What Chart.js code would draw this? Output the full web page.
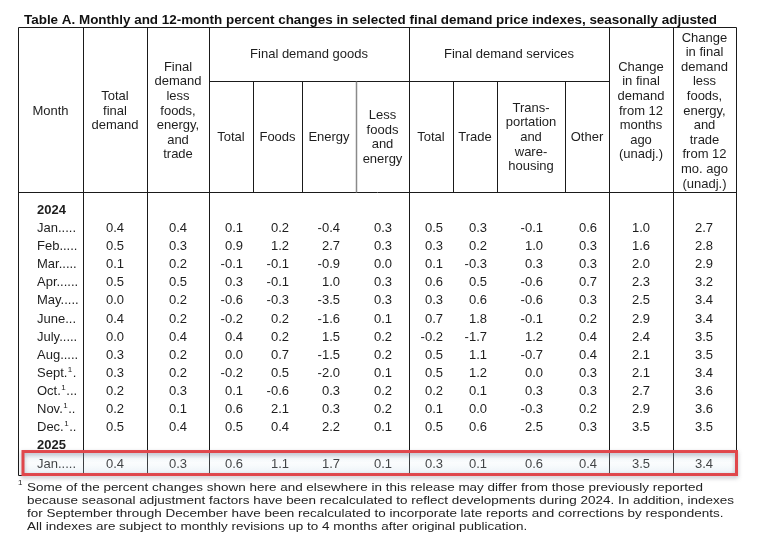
<!DOCTYPE html>
<html>
<head>
<meta charset="utf-8">
<script src="https://cdn.jsdelivr.net/npm/chart.js@4.4.1/dist/chart.umd.min.js"></script>
<style>
  html, body { margin: 0; padding: 0; background: #fff; }
  canvas { display: block; }
</style>
</head>
<body>
<canvas id="tabelaPPI" width="758" height="545"></canvas>
<script>
// Linhas: jan/2024 ... dez/2024, jan/2025
var meses = ['Jan.', 'Feb.', 'Mar.', 'Apr.', 'May.', 'June.', 'July.', 'Aug.', 'Sept.', 'Oct.', 'Nov.', 'Dec.', 'Jan.'];
var notaMes = [0, 0, 0, 0, 0, 0, 0, 0, 1, 1, 1, 1, 0];
var anos = ['2024', '2025'];

// Colunas de valores (variação % mensal e em 12 meses)
var totalFinal      = [0.4, 0.5, 0.1, 0.5, 0.0, 0.4, 0.0, 0.3, 0.3, 0.2, 0.2, 0.5, 0.4];
var menosAlimEnerg  = [0.4, 0.3, 0.2, 0.5, 0.2, 0.2, 0.4, 0.2, 0.2, 0.3, 0.1, 0.4, 0.3];
var bensTotal       = [0.1, 0.9, -0.1, 0.3, -0.6, -0.2, 0.4, 0.0, -0.2, 0.1, 0.6, 0.5, 0.6];
var bensAlimentos   = [0.2, 1.2, -0.1, -0.1, -0.3, 0.2, 0.2, 0.7, 0.5, -0.6, 2.1, 0.4, 1.1];
var bensEnergia     = [-0.4, 2.7, -0.9, 1.0, -3.5, -1.6, 1.5, -1.5, -2.0, 0.3, 0.3, 2.2, 1.7];
var bensNucleo      = [0.3, 0.3, 0.0, 0.3, 0.3, 0.1, 0.2, 0.2, 0.1, 0.2, 0.2, 0.1, 0.1];
var servTotal       = [0.5, 0.3, 0.1, 0.6, 0.3, 0.7, -0.2, 0.5, 0.5, 0.2, 0.1, 0.5, 0.3];
var servComercio    = [0.3, 0.2, -0.3, 0.5, 0.6, 1.8, -1.7, 1.1, 1.2, 0.1, 0.0, 0.6, 0.1];
var servTransporte  = [-0.1, 1.0, 0.3, -0.6, -0.6, -0.1, 1.2, -0.7, 0.0, 0.3, -0.3, 2.5, 0.6];
var servOutros      = [0.6, 0.3, 0.3, 0.7, 0.3, 0.2, 0.4, 0.4, 0.3, 0.3, 0.2, 0.3, 0.4];
var var12Meses      = [1.0, 1.6, 2.0, 2.3, 2.5, 2.9, 2.4, 2.1, 2.1, 2.7, 2.9, 3.5, 3.5];
var var12Nucleo     = [2.7, 2.8, 2.9, 3.2, 3.4, 3.4, 3.5, 3.5, 3.4, 3.6, 3.6, 3.5, 3.4];

var colunas = [totalFinal, menosAlimEnerg, bensTotal, bensAlimentos, bensEnergia, bensNucleo,
               servTotal, servComercio, servTransporte, servOutros, var12Meses, var12Nucleo];

// Posição de cada linha no eixo y (linhas 0 e 13 são os anos)
var linhaMes = [1, 2, 3, 4, 5, 6, 7, 8, 9, 10, 11, 12, 14];
var linhaAno = [0, 13];

// Layout horizontal (unidades do eixo x)
var bordas = [0, 65, 129, 191, 235, 284, 338, 391, 435, 479, 547, 591, 655, 718];
var ancoraValor = [106, 169, 225, 271, 322, 374, 425, 469, 525, 579, 632, 695];

var titulo = 'Table A. Monthly and 12-month percent changes in selected final demand price indexes, seasonally adjusted';

// Cabeçalhos: [borda inicial, borda final, nível, linhas]
var cabecalhos = [
  [0, 1, 'full', ['Month']],
  [1, 2, 'full', ['Total', 'final', 'demand']],
  [2, 3, 'full', ['Final', 'demand', 'less', 'foods,', 'energy,', 'and', 'trade']],
  [3, 7, 'grupo', ['Final demand goods']],
  [3, 4, 'sub', ['Total']],
  [4, 5, 'sub', ['Foods']],
  [5, 6, 'sub', ['Energy']],
  [6, 7, 'sub', ['Less', 'foods', 'and', 'energy']],
  [7, 11, 'grupo', ['Final demand services']],
  [7, 8, 'sub', ['Total']],
  [8, 9, 'sub', ['Trade']],
  [9, 10, 'sub', ['Trans-', 'portation', 'and', 'ware-', 'housing']],
  [10, 11, 'sub', ['Other']],
  [11, 12, 'full', ['Change', 'in final', 'demand', 'from 12', 'months', 'ago', '(unadj.)']],
  [12, 13, 'full', ['Change', 'in final', 'demand', 'less', 'foods,', 'energy,', 'and', 'trade', 'from 12', 'mo. ago', '(unadj.)']]
];

var rodape = [
  'Some of the percent changes shown here and elsewhere in this release may differ from those previously reported',
  'because seasonal adjustment factors have been recalculated to reflect developments during 2024. In addition, indexes',
  'for September through December have been recalculated to incorporate late reports and corrections by respondents.',
  'All indexes are subject to monthly revisions up to 4 months after original publication.'
];

var FONTE = '"Liberation Sans", Arial, Helvetica, sans-serif';
var COR_TEXTO = '#1e1e1e';

var datasets = colunas.map(function (valores, c) {
  return {
    label: 'col' + c,
    data: valores.map(function (v, i) { return { x: ancoraValor[c], y: linhaMes[i], v: v }; }),
    pointRadius: 0,
    showLine: false
  };
});

var desenhoTabela = {
  id: 'desenhoTabela',
  afterDraw: function (chart) {
    var ctx = chart.ctx;
    var xs = chart.scales.x, ys = chart.scales.y;
    var px = function (b) { return Math.round(xs.getPixelForValue(bordas[b])) + 0.5; };
    var baseCab = Math.round(ys.getPixelForValue(-1)) + 0.5;   // fim do cabeçalho
    var topo = baseCab - 165;
    var linhaGrupo = baseCab - 111;
    var fundo = Math.round(ys.getPixelForValue(14.63)) + 0.5;

    ctx.save();
    // título
    ctx.fillStyle = '#111';
    ctx.textBaseline = 'middle';
    ctx.font = 'bold 13px ' + FONTE;
    var wT = ctx.measureText(titulo).width;
    ctx.save();
    ctx.translate(24, 20);
    ctx.scale(693 / wT, 1);
    ctx.fillText(titulo, 0, 0);
    ctx.restore();

    // linhas da grade
    ctx.strokeStyle = '#1a1a1a';
    ctx.lineWidth = 1;
    ctx.beginPath();
    ctx.moveTo(px(0), topo); ctx.lineTo(px(13), topo);
    ctx.moveTo(px(0), baseCab); ctx.lineTo(px(13), baseCab);
    ctx.moveTo(px(0), fundo); ctx.lineTo(px(13), fundo);
    ctx.moveTo(px(3), linhaGrupo); ctx.lineTo(px(11), linhaGrupo);
    [0, 1, 2, 3, 7, 11, 12, 13].forEach(function (b) {
      ctx.moveTo(px(b), topo); ctx.lineTo(px(b), fundo);
    });
    [4, 5, 8, 9, 10].forEach(function (b) {
      ctx.moveTo(px(b), linhaGrupo); ctx.lineTo(px(b), baseCab);
    });
    ctx.stroke();
    ctx.strokeStyle = '#8a8a8a';
    ctx.lineWidth = 1.5;
    ctx.beginPath();
    ctx.moveTo(px(6), linhaGrupo); ctx.lineTo(px(6), baseCab);
    ctx.stroke();

    // cabeçalhos
    ctx.fillStyle = COR_TEXTO;
    ctx.font = '13px ' + FONTE;
    ctx.textAlign = 'center';
    var alturaLinha = 14.6;
    cabecalhos.forEach(function (h) {
      var cx = (xs.getPixelForValue(bordas[h[0]]) + xs.getPixelForValue(bordas[h[1]])) / 2;
      var cy;
      if (h[2] === 'full') cy = (topo + baseCab) / 2 + 1;
      else if (h[2] === 'grupo') cy = (topo + linhaGrupo) / 2;
      else cy = (linhaGrupo + baseCab) / 2 + 0.5;
      var n = h[3].length;
      h[3].forEach(function (t, k) {
        ctx.fillText(t, cx, cy + (k - (n - 1) / 2) * alturaLinha);
      });
    });

    // rótulos de linhas
    ctx.textAlign = 'left';
    var xRot = xs.getPixelForValue(19);
    var limitePontos = xs.getPixelForValue(61);
    ctx.font = 'bold 13px ' + FONTE;
    anos.forEach(function (a, i) {
      ctx.fillText(a, xRot, ys.getPixelForValue(linhaAno[i]));
    });
    ctx.font = '13px ' + FONTE;
    meses.forEach(function (m, i) {
      var y = ys.getPixelForValue(linhaMes[i]);
      ctx.fillText(m, xRot, y);
      var x = xRot + ctx.measureText(m).width;
      if (notaMes[i]) {
        ctx.font = '8px ' + FONTE;
        ctx.fillText('1', x + 0.5, y - 4);
        x += ctx.measureText('1').width + 1;
        ctx.font = '13px ' + FONTE;
      }
      var wp = ctx.measureText('.').width;
      while (x + wp <= limitePontos) {
        ctx.fillText('.', x, y);
        x += wp;
      }
    });

    // valores, posicionados pelos pontos do Chart.js
    ctx.textAlign = 'right';
    chart.data.datasets.forEach(function (ds, d) {
      var meta = chart.getDatasetMeta(d);
      meta.data.forEach(function (pt, i) {
        ctx.fillText(ds.data[i].v.toFixed(1), pt.x, pt.y);
      });
    });

    // destaque vermelho na última linha
    var yj = ys.getPixelForValue(linhaMes[12]);
    var bx0 = xs.getPixelForValue(0) + 5, bx1 = xs.getPixelForValue(718) + 0.5;
    var by0 = yj - 12.5, by1 = yj + 10.5;
    var grad = ctx.createLinearGradient(0, by0, 0, by1);
    grad.addColorStop(0, 'rgba(180,205,225,0.35)');
    grad.addColorStop(0.5, 'rgba(225,236,244,0.15)');
    grad.addColorStop(1, 'rgba(180,205,225,0.30)');
    ctx.fillStyle = grad;
    ctx.fillRect(bx0, by0, bx1 - bx0, by1 - by0);
    ctx.save();
    ctx.shadowColor = 'rgba(60,60,80,0.35)';
    ctx.shadowBlur = 4;
    ctx.shadowOffsetY = 2;
    ctx.strokeStyle = '#e0464b';
    ctx.lineWidth = 3;
    ctx.strokeRect(bx0, by0, bx1 - bx0, by1 - by0);
    ctx.restore();

    // nota de rodapé
    ctx.fillStyle = '#222';
    ctx.textAlign = 'left';
    ctx.font = '13px ' + FONTE;
    var wR = ctx.measureText(rodape[0]).width;
    var sx = 676 / wR;
    rodape.forEach(function (t, k) {
      ctx.save();
      ctx.translate(27, 488 + k * 13);
      ctx.scale(sx, 0.9);
      ctx.fillText(t, 0, 0);
      ctx.restore();
    });
    ctx.font = '8px ' + FONTE;
    ctx.fillText('1', 18, 483);
    ctx.restore();
  }
};

var ctx = document.getElementById('tabelaPPI').getContext('2d');

var tabela = new Chart(ctx, {
  type: 'scatter',
  data: { datasets: datasets },
  options: {
    responsive: false,
    animation: false,
    devicePixelRatio: 1,
    events: [],
    layout: { padding: { left: 18, right: 22, top: 192, bottom: 69 } },
    scales: {
      x: { type: 'linear', min: 0, max: 718, display: false },
      y: { type: 'linear', min: -1, max: 14.66, reverse: true, display: false }
    },
    plugins: {
      legend: { display: false },
      tooltip: { enabled: false },
      title: { display: false }
    }
  },
  plugins: [desenhoTabela]
});
</script>
</body>
</html>
